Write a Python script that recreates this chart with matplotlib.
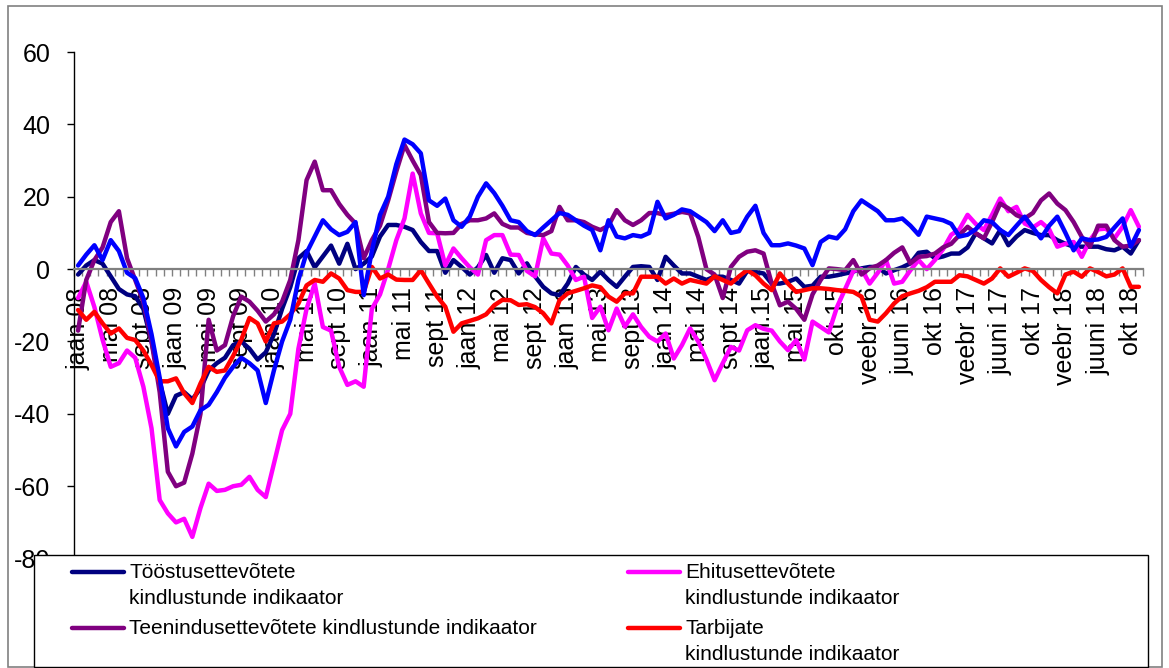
import matplotlib
matplotlib.use("Agg")
import matplotlib.pyplot as plt
from matplotlib.lines import Line2D
from matplotlib.patches import Rectangle

plt.rcParams['font.family'] = ['Liberation Sans', 'DejaVu Sans']
plt.rcParams['axes.unicode_minus'] = False

# monthly values, jaan 2008 .. nov 2018
industry = [-1.5, 1.0, 2.5, 1.5, -2, -5.5, -7, -7.5, -11, -20, -31, -40, -35, -34, -36, -33,
            -28, -26, -24.5, -21, -20, -22, -25, -23, -18, -11, -5, 3, 5, 0.5, 3.5, 6.5,
            1.5, 7, 0, 1.5, 3.5, 9, 12.2, 12.2, 11.7, 10.8, 7.5, 5, 5, -1, 2.5, 0.6,
            -1.5, 0.5, 3.9, -1, 3, 2.5, -1.2, 1.6, -2, -4.9, -6.7, -7.2, -4, 0.6, -1.5, -3,
            -0.7, -3, -4.9, -2.1, 0.6, 0.8, 0.6, -3, 3.4, 1, -1.2, -1.2, -2.1, -3, -2.1, -2.1,
            -3, -4, -0.5, -0.8, -1.2, -4, -4, -3.5, -2.6, -4.9, -4.6, -2.1, -2.1, -1.7, -1.2, -0.7,
            0.2, 0.6, 0.6, -1.2, -0.3, 0.5, 1.6, 4.5, 4.8, 3, 3.5, 4.3, 4.3, 6, 9.9, 8.5,
            7.1, 10.8, 6.6, 9, 10.8, 10, 9.4, 9.4, 8, 7, 6.2, 6.2, 6.2, 6.2, 5.5, 5.2,
            6.2, 4.3, 8]
construction = [-8, -3.5, -10.5, -19.5, -27, -26, -22.5, -24.5, -32.5, -44, -63.8, -67.5, -70, -69, -74, -66,
                -59.3, -61.3, -61, -60, -59.6, -57.4, -61, -63, -53.7, -44.5, -40, -22, -11, -4, -16, -17,
                -27, -32, -31, -32.5, -11, -7, 0, 8, 14, 26.4, 15.4, 10, 9.9, 1, 5.7, 3,
                0.5, -1.5, 8, 9.4, 9.4, 4, 3.9, -0.5, -2, 8.5, 4.3, 4, 1, -3, -2.1, -13.5,
                -10.4, -16.9, -10.9, -15.9, -12.5, -16, -18.7, -20, -17.8, -24.7, -21, -16.4, -20, -25, -30.7, -26,
                -21.5, -22.5, -16.9, -15.5, -16.5, -17, -20, -22.4, -19.6, -25, -14.5, -16, -17.5, -10.5, -5.5, -0.5,
                0, -4, -1, 2.5, -4, -3.5, -0.3, 2.5, 0, 2.5, 5.5, 9.5, 11, 15, 12.5, 10.8,
                15, 19.5, 16, 17.2, 12.6, 11.5, 13, 11, 6.2, 7, 7.5, 3.4, 8, 11, 11.2, 8.5,
                11.7, 16.3, 11.7]
services = [-17, -3, 2.5, 6, 13, 16, 3, -3, -9, -20, -34, -56, -60, -59, -51, -40,
            -14, -22.5, -21, -13, -7.6, -9, -11.5, -14.5, -12.5, -9, -3, 8, 24.6, 29.7, 21.8, 21.8,
            18, 15, 12.6, 3, 8, 12, 19, 27, 34.3, 30, 26, 13, 10, 9.9, 10, 12.5,
            13.5, 13.5, 14, 15.4, 12.5, 11.5, 11.5, 10, 9.6, 9.4, 10.5, 17.2, 13.5, 13.5, 13, 11.7,
            10.8, 12, 16.3, 13.5, 12.2, 13.5, 15.5, 15.5, 14.9, 15.3, 15.8, 15.4, 8.9, 0, -1.5, -8,
            0.6, 3.4, 4.8, 5.2, 4.3, -4, -10, -9, -11, -14, -7, -3, 0.2, 0, -0.3, 2.5,
            -1.5, 0.2, 1, 2.5, 4.5, 6, 1.6, 3.4, 3.6, 4.3, 6, 7, 9.4, 11.7, 9.9, 8.5,
            13, 18.1, 16.8, 14.9, 14, 15.5, 19, 20.9, 18.1, 16.3, 13, 8.9, 6.2, 12, 12, 8,
            6.2, 6.5, 8]
consumers = [-11.3, -14, -11.8, -15, -17.8, -16.4, -19, -19.6, -22.5, -26.5, -31, -31, -30.2, -34.3, -37, -31.6,
             -27, -28.4, -28, -24, -19.5, -13.5, -15, -20, -15, -14.5, -12.5, -9.5, -4.5, -3, -3.5, -1.2,
             -2.6, -5.8, -6.3, -6.3, 0.6, -2.6, -1.5, -2.9, -3, -3, -0.3, -4, -7.6, -10.4, -17.3, -15,
             -14.3, -13.6, -12.5, -10, -8.5, -8.6, -9.9, -9.7, -10.5, -12.2, -15, -8.6, -6.7, -6, -5.3, -4.5,
             -5, -7.6, -9, -6.7, -6.7, -2.1, -2.1, -2.1, -4, -2.6, -4, -3, -3.5, -4, -2, -3,
             -4, -2, -0.3, -1.7, -4, -5.8, -1.2, -4, -6.3, -5.8, -5.3, -5.3, -5.5, -5.8, -6, -6.3,
             -7.6, -14, -14.5, -12.2, -9.5, -7.5, -6.7, -6, -5, -3.5, -3.5, -3.5, -1.7, -2, -3, -4,
             -2.6, 0.2, -2.1, -1, 0.2, -0.5, -3, -5, -6.7, -1.5, -0.7, -2.1, 0.2, -0.8, -2, -1.5,
             0.2, -4.9, -4.9]
sentiment = [1, 4, 6.6, 2.5, 8, 5, -1, -2.5, -8, -18, -30, -44, -49, -45, -43.5, -39,
             -37.5, -34, -30, -27, -24.5, -26, -28, -37, -28, -20, -14, -3, 4.5, 9, 13.5, 11,
             9.4, 10.3, 13, -7.2, 5, 15, 20, 29, 35.8, 34.5, 32, 19, 17.5, 19.5, 13.5, 11.7,
             14.5, 20, 23.7, 21, 17.5, 13.5, 13, 10.5, 9.4, 11.5, 13.5, 15.5, 15, 13.5, 12, 10.8,
             5.2, 13.5, 9, 8.5, 9.4, 9, 10, 18.6, 14, 15, 16.5, 16, 14.5, 13, 10.5, 13.5,
             10, 10.5, 14.5, 17.5, 10, 6.6, 6.6, 7.1, 6.5, 5.7, 1.1, 7.5, 9, 8.5, 11, 16,
             19, 17.5, 16, 13.5, 13.5, 14, 12, 9.5, 14.5, 14, 13.5, 12.5, 9, 9.5, 11, 13.5,
             13, 10.8, 9.4, 12, 14.5, 11.5, 8.5, 12, 14.5, 10, 5.2, 8.5, 8, 8.2, 8.9, 11.5,
             14, 6.2, 10.8]

tick_labels = ["jaan 08", "mai 08", "sept 08", "jaan 09", "mai 09", "sept 09", "jaan 10", "mai 10",
               "sept 10", "jaan 11", "mai 11", "sept 11", "jaan 12", "mai 12", "sept 12", "jaan 13",
               "mai 13", "sept 13", "jaan 14", "mai 14", "sept 14", "jaan.15", "mai 15", "okt 15",
               "veebr 16", "juuni 16", "okt 16", "veebr 17", "juuni 17", "okt 17", "veebr 18",
               "juuni 18", "okt 18"]
tick_months = [0, 4, 8, 12, 16, 20, 24, 28, 32, 36, 40, 44, 48, 52, 56, 60, 64, 68, 72, 76, 80,
               84, 88, 93, 97, 101, 105, 109, 113, 117, 121, 125, 129]

series = [
    ("Tööstusettevõtete\nkindlustunde indikaator", industry, "#000080"),
    ("Ehitusettevõtete\nkindlustunde indikaator", construction, "#FF00FF"),
    ("Teenindusettevõtete kindlustunde indikaator", services, "#800080"),
    ("Tarbijate\nkindlustunde indikaator", consumers, "#FF0000"),
]

W, H = 1169, 668
LW = 3.2
fig = plt.figure(figsize=(W / 100, H / 100), dpi=100)
ax = fig.add_axes([74 / W, 1 - 558.6 / H, (1143 - 74) / W, (558.6 - 52) / H])

x = range(len(industry))
for label, vals, color in series:
    ax.plot(x, vals, color=color, lw=LW, solid_joinstyle='round', solid_capstyle='round')
ax.plot(x, sentiment, color="#0000FF", lw=LW, solid_joinstyle='round', solid_capstyle='round')

ax.set_xlim(-0.5, len(industry) - 0.5)
ax.set_ylim(-80, 60)
ax.set_yticks(range(-80, 61, 20))
ax.tick_params(axis='y', labelsize=18, length=5, width=1, pad=12, color='black')

for s in ['top', 'right']:
    ax.spines[s].set_visible(False)
ax.spines['left'].set_linewidth(1)
ax.spines['bottom'].set_position(('data', 0))
ax.spines['bottom'].set_color('#808080')
ax.spines['bottom'].set_linewidth(1.6)

ax.set_xticks(tick_months)
ax.set_xticklabels(tick_labels, rotation=90, ha='center', va='top')
ax.set_xticks([i - 0.5 for i in range(len(industry) + 1)], minor=True)
ax.tick_params(axis='x', which='major', length=0, labelsize=18, pad=13)
ax.tick_params(axis='x', which='minor', length=5, width=1, color='#808080')

# outer frame
fig.add_artist(Rectangle((8 / W, 1 / H), (1162 - 8) / W, (662 - 1) / H,
                         transform=fig.transFigure, fill=False, edgecolor='#808080', lw=1.2))

# legend box
fig.add_artist(Rectangle((34 / W, 1 - 667 / H), (1148 - 34) / W, (667 - 555) / H,
                         transform=fig.transFigure, facecolor='white', edgecolor='black', lw=1, zorder=4))
slots = [(72, 578), (628, 578), (72, 634), (628, 634)]
for (label, vals, color), (x0, yb) in zip(series, slots):
    fig.add_artist(Line2D([x0 / W, (x0 + 52) / W], [1 - (yb - 6) / H] * 2, transform=fig.transFigure,
                          color=color, lw=LW, solid_capstyle='round', zorder=5))
    for k, line in enumerate(label.split("\n")):
        fig.text((x0 + 57) / W, 1 - (yb + 26 * k) / H, line, fontsize=15,
                 va='baseline', ha='left', zorder=5)

fig.savefig("out.png", dpi=100)
